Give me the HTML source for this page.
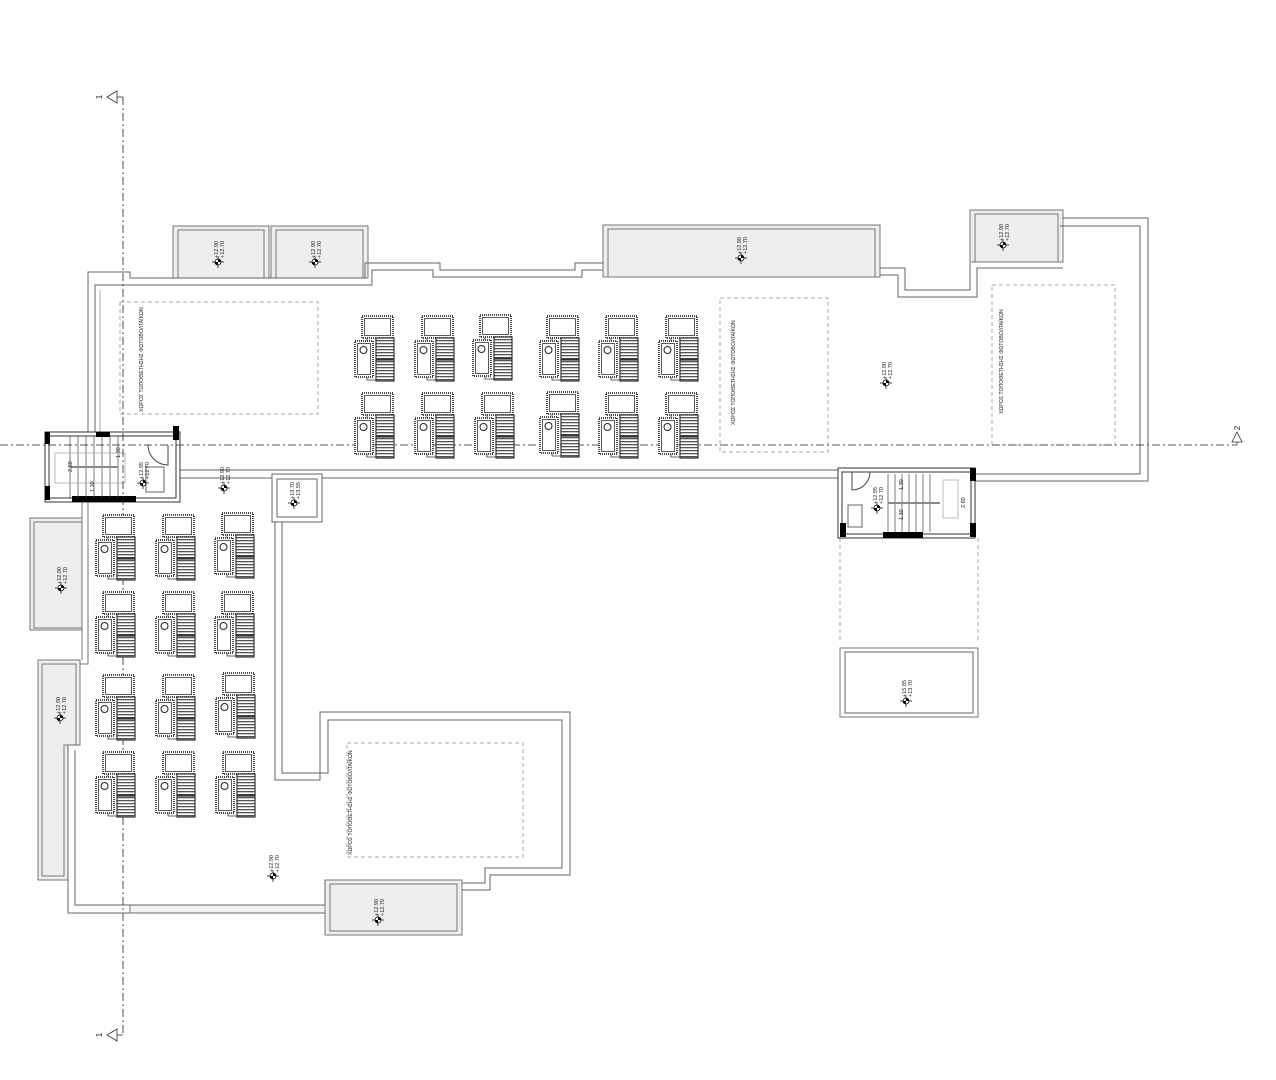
<!DOCTYPE html>
<html><head><meta charset="utf-8"><style>
html,body{margin:0;padding:0;background:#fff}
svg{display:block}
text{font-family:"Liberation Sans",sans-serif;fill:#222}
</style></head><body>
<svg width="1276" height="1080" viewBox="0 0 1276 1080" xmlns="http://www.w3.org/2000/svg">
<defs>
<pattern id="str" width="4" height="3" patternUnits="userSpaceOnUse"><rect width="4" height="3" fill="#fff"/><rect width="4" height="1.3" fill="#555"/></pattern>
<g id="u">
 <rect x="7" y="0" width="31" height="22" fill="#fff" stroke="#444" stroke-width="2" stroke-dasharray="1 1"/>
 <rect x="9.5" y="2.5" width="26" height="17" fill="#fff" stroke="#333" stroke-width="0.8"/>
 <path d="M12 22 V26 M12 60 V64 H30" stroke="#333" fill="none" stroke-width="0.8"/>
 <rect x="21" y="22" width="18" height="21" fill="url(#str)" stroke="#333" stroke-width="1.2"/>
 <rect x="21" y="44" width="18" height="21" fill="url(#str)" stroke="#333" stroke-width="1.2"/>
 <rect x="0" y="25" width="18" height="36" fill="#fff" stroke="#444" stroke-width="2" stroke-dasharray="1 1"/>
 <rect x="2.5" y="27.5" width="13" height="31" fill="#fff" stroke="#333" stroke-width="0.8"/>
 <circle cx="8.5" cy="34" r="3.5" fill="#fff" stroke="#222" stroke-width="1"/>
</g>
<g id="m"><line x1="-6" y1="0" x2="6" y2="0" stroke="#000" stroke-width="0.7"/><line x1="0" y1="-6" x2="0" y2="6" stroke="#000" stroke-width="0.7"/><circle r="3" fill="#fff" stroke="#000" stroke-width="0.8"/><path d="M0 -3 A3 3 0 0 1 3 0 L0 0Z M0 3 A3 3 0 0 1 -3 0 L0 0Z" fill="#000"/></g>
</defs>
<g fill="none" stroke="#777" stroke-width="1">
<!-- planters -->
<g fill="#eeeeee" stroke="#777">
<rect x="173" y="226" width="96" height="52"/><rect x="178" y="230" width="86" height="48"/>
<rect x="271" y="226" width="97" height="52"/><rect x="276" y="230" width="87" height="48"/>
<rect x="603" y="225" width="277" height="52"/><rect x="608" y="229" width="267" height="48"/>
<rect x="970" y="210" width="93" height="52"/><rect x="975" y="214" width="83" height="48"/>
<rect x="30" y="518" width="52" height="112"/><rect x="34" y="522" width="48" height="106"/>
<path d="M38 660 H80 V745 H68 V880 H38Z"/><path d="M42 664 H76 V745 H64 V876 H42Z"/>
<rect x="325" y="880" width="137" height="55"/><rect x="330" y="884" width="127" height="47"/>
<rect x="130" y="905" width="195" height="8" fill="#f3f3f3"/>
</g>
<!-- upper wing -->
<path d="M88 432 V272 H130 V278 H365 V263 H440 V270 H575 V263 H603" stroke="#666"/>
<path d="M95 432 V285 H372 V270 H433 V277 H582 V270 H603" stroke="#666"/>
<path d="M100 432 V290" stroke="#aaa"/>
<path d="M880 268 H905 V290 H970 V263" stroke="#666"/>
<path d="M880 275 H898 V297 H977 V268 H1063" stroke="#666"/>
<path d="M1063 218 H1148 V481 H975" stroke="#666"/>
<path d="M1060 226 H1140 V474 H975" stroke="#666"/>
<path d="M180 470 H840 M180 478 H840" stroke="#666"/>
<!-- lower-left wing -->
<path d="M82 502 V660 M88 502 V664 H80" stroke="#777"/>
<path d="M80 745 H68 V913 H325 M75 750 V905 H325" stroke="#666"/>
<path d="M275 478 V780 H320 V712 H570 V875 H490 V890 H462 M282 478 V773 H328 V720 H562 V868 H485 V883 H462" stroke="#666"/>
<path d="M325 905 V880" stroke="#666"/>
<!-- small square -->
<rect x="272" y="474" width="50" height="48" stroke="#666" fill="#fff"/><rect x="277" y="479" width="40" height="38" stroke="#666"/>
<!-- right stair box below -->
<path d="M840 538 V640 M978 538 V640" stroke="#aaa" stroke-dasharray="4 3"/>
<rect x="840" y="648" width="138" height="69" stroke="#777"/><rect x="845" y="652" width="128" height="61" stroke="#666"/>
<!-- PV dashed areas -->
<g stroke="#aaa" stroke-dasharray="4 3">
<rect x="120" y="302" width="198" height="112"/>
<rect x="720" y="298" width="108" height="154"/>
<rect x="992" y="285" width="123" height="160"/>
<rect x="347" y="743" width="176" height="114"/>
</g>
<!-- left stair -->
<rect x="45" y="432" width="135" height="70" stroke="#333" fill="#fff"/>
<rect x="49" y="436" width="127" height="62" stroke="#333"/>
<rect x="45" y="432" width="5" height="12" fill="#000" stroke="none"/>
<rect x="45" y="486" width="5" height="14" fill="#000" stroke="none"/>
<rect x="173" y="426" width="6" height="14" fill="#000" stroke="none"/>
<rect x="96" y="432" width="14" height="5" fill="#000" stroke="none"/>
<rect x="72" y="496" width="64" height="6" fill="#000" stroke="none"/>
<path d="M70 436 V498 M78 436 V498 M86 436 V498 M94 436 V498 M102 436 V498 M110 436 V498 M118 436 V498" stroke="#444" stroke-width="0.7"/>
<rect x="55" y="453" width="70" height="30" stroke="#bbb"/>
<line x1="70" y1="467" x2="118" y2="467" stroke="#888" stroke-width="2"/>
<path d="M148 445 A20 20 0 0 0 168 465 V445" stroke="#444"/>
<rect x="146" y="467" width="18" height="25" stroke="#666"/>
<!-- right stair -->
<rect x="838" y="468" width="137" height="70" stroke="#333" fill="#fff"/>
<rect x="842" y="472" width="129" height="62" stroke="#333"/>
<rect x="970" y="468" width="6" height="13" fill="#000" stroke="none"/>
<rect x="970" y="523" width="6" height="14" fill="#000" stroke="none"/>
<rect x="840" y="523" width="6" height="14" fill="#000" stroke="none"/>
<rect x="883" y="532" width="40" height="6" fill="#000" stroke="none"/>
<path d="M888 474 V532 M895 474 V532 M902 474 V532 M909 474 V532 M916 474 V532 M923 474 V532 M930 474 V532" stroke="#444" stroke-width="0.7"/>
<rect x="943" y="480" width="15" height="38" stroke="#bbb"/>
<line x1="888" y1="503" x2="940" y2="503" stroke="#888" stroke-width="2"/>
<path d="M852 472 V490 A18 18 0 0 0 870 472" stroke="#444"/>
<rect x="848" y="505" width="14" height="22" stroke="#666"/>
</g>
<!-- grid lines -->
<g stroke="#222" stroke-width="0.8" stroke-dasharray="8 3 2 3" fill="none">
<line x1="123" y1="97" x2="123" y2="1035"/>
<line x1="0" y1="445" x2="1237" y2="445"/>
</g>
<g stroke="#333" fill="#fff" stroke-width="0.8">
<path d="M107 97 L117 91 V103Z"/><path d="M117 97 H123"/>
<path d="M107 1035 L117 1029 V1041Z"/><path d="M117 1035 H123"/>
<path d="M1237 432 L1232 442 H1242Z"/><path d="M1237 442 V445"/>
</g>
<text transform="translate(102,97) rotate(-90)" font-size="8" text-anchor="middle">1</text>
<text transform="translate(102,1035) rotate(-90)" font-size="8" text-anchor="middle">1</text>
<text transform="translate(1240,428) rotate(-90)" font-size="8" text-anchor="middle">2</text>
<!-- units -->
<use href="#u" x="355" y="316"/><use href="#u" x="415" y="316"/><use href="#u" x="473" y="315"/><use href="#u" x="540" y="316"/><use href="#u" x="599" y="316"/><use href="#u" x="659" y="316"/>
<use href="#u" x="355" y="393"/><use href="#u" x="415" y="393"/><use href="#u" x="475" y="393"/><use href="#u" x="540" y="392"/><use href="#u" x="599" y="393"/><use href="#u" x="659" y="393"/>
<use href="#u" x="96" y="515"/><use href="#u" x="156" y="515"/><use href="#u" x="215" y="513"/>
<use href="#u" x="96" y="592"/><use href="#u" x="156" y="592"/><use href="#u" x="215" y="592"/>
<use href="#u" x="96" y="675"/><use href="#u" x="156" y="675"/><use href="#u" x="216" y="673"/>
<use href="#u" x="96" y="752"/><use href="#u" x="156" y="752"/><use href="#u" x="216" y="752"/>
<!-- markers -->
<g>
<use href="#m" x="218" y="262"/><use href="#m" x="315" y="262"/><use href="#m" x="741" y="258"/><use href="#m" x="1003" y="245"/>
<use href="#m" x="886" y="383"/><use href="#m" x="224" y="488"/><use href="#m" x="143" y="483"/><use href="#m" x="294" y="503"/>
<use href="#m" x="877" y="508"/><use href="#m" x="61" y="588"/><use href="#m" x="60" y="718"/><use href="#m" x="273" y="876"/>
<use href="#m" x="378" y="920"/><use href="#m" x="906" y="701"/>
</g>
<g font-size="5.5">
<text transform="translate(218,258) rotate(-90)">+12.90</text><text transform="translate(224,258) rotate(-90)">+12.70</text>
<text transform="translate(315,258) rotate(-90)">+12.90</text><text transform="translate(321,258) rotate(-90)">+12.70</text>
<text transform="translate(741,254) rotate(-90)">+12.90</text><text transform="translate(747,254) rotate(-90)">+12.70</text>
<text transform="translate(1003,241) rotate(-90)">+12.90</text><text transform="translate(1009,241) rotate(-90)">+12.70</text>
<text transform="translate(886,379) rotate(-90)">+12.90</text><text transform="translate(892,379) rotate(-90)">+12.70</text>
<text transform="translate(224,484) rotate(-90)">+12.90</text><text transform="translate(230,484) rotate(-90)">+12.70</text>
<text transform="translate(143,479) rotate(-90)">+12.95</text><text transform="translate(149,479) rotate(-90)">+12.70</text>
<text transform="translate(294,499) rotate(-90)">+13.70</text><text transform="translate(300,499) rotate(-90)">+13.55</text>
<text transform="translate(877,504) rotate(-90)">+12.95</text><text transform="translate(883,504) rotate(-90)">+12.70</text>
<text transform="translate(61,584) rotate(-90)">+12.90</text><text transform="translate(67,584) rotate(-90)">+12.70</text>
<text transform="translate(60,714) rotate(-90)">+12.90</text><text transform="translate(66,714) rotate(-90)">+12.70</text>
<text transform="translate(273,872) rotate(-90)">+12.90</text><text transform="translate(279,872) rotate(-90)">+12.70</text>
<text transform="translate(378,916) rotate(-90)">+12.90</text><text transform="translate(384,916) rotate(-90)">+12.70</text>
<text transform="translate(906,697) rotate(-90)">+15.85</text><text transform="translate(912,697) rotate(-90)">+13.70</text>
<text transform="translate(72,472) rotate(-90)">2.60</text>
<text transform="translate(94,492) rotate(-90)">1.30</text>
<text transform="translate(120,458) rotate(-90)">1.30</text>
<text transform="translate(903,490) rotate(-90)">1.30</text><text transform="translate(903,520) rotate(-90)">1.30</text>
<text transform="translate(965,508) rotate(-90)">2.60</text>
</g>
<g font-size="5.2">
<text transform="translate(143,412) rotate(-90)">ΧΩΡΟΣ ΤΟΠΟΘΕΤΗΣΗΣ ΦΩΤΟΒΟΛΤΑΪΚΩΝ</text>
<text transform="translate(735,425) rotate(-90)">ΧΩΡΟΣ ΤΟΠΟΘΕΤΗΣΗΣ ΦΩΤΟΒΟΛΤΑΪΚΩΝ</text>
<text transform="translate(1003,414) rotate(-90)">ΧΩΡΟΣ ΤΟΠΟΘΕΤΗΣΗΣ ΦΩΤΟΒΟΛΤΑΪΚΩΝ</text>
<text transform="translate(352,855) rotate(-90)">ΧΩΡΟΣ ΤΟΠΟΘΕΤΗΣΗΣ ΦΩΤΟΒΟΛΤΑΪΚΩΝ</text>
</g>
</svg>
</body></html>
